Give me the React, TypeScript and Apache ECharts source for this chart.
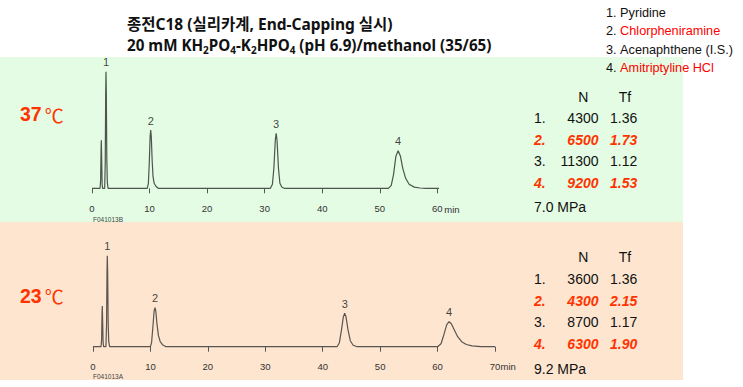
import React, { useEffect, useRef } from "react";
import * as echarts from "echarts";

// ---------- data ----------
const titleLine1 = "종전C18 (실리카계, End-Capping 실시)";
const compounds = ["Pyridine", "Chlorpheniramine", "Acenaphthene (I.S.)", "Amitriptyline HCl"];
const temps = ["37", "23"];
const fileIds = ["F041013B", "F041013A"];
const unit = "min";

const n37 = [4300, 6500, 11300, 9200];
const tf37 = ["1.36", "1.73", "1.12", "1.53"];
const pressure37 = "7.0 MPa";
const n23 = [3600, 4300, 8700, 6300];
const tf23 = ["1.36", "2.15", "1.17", "1.90"];
const pressure23 = "9.2 MPa";

const xMax37 = 60;
const xMax23 = 70;

// chromatogram traces: [time (min), signal]
const trace37 = [
  [0, 0], [1.4, 0], [1.5, 8], [1.58, 40], [1.62, 48], [1.68, 30], [1.76, 4], [1.85, 0],
  [2.2, 0], [2.3, 25], [2.38, 95], [2.43, 116.6], [2.49, 95], [2.57, 30], [2.66, 6], [2.8, 0],
  [9.6, 0], [9.8, 5], [9.95, 25], [10.1, 52], [10.2, 58.3], [10.3, 52], [10.45, 28], [10.6, 12], [10.8, 5], [11.1, 2], [11.5, 0],
  [31.0, 0], [31.35, 4], [31.6, 20], [31.85, 48], [32.0, 55], [32.15, 48], [32.4, 20], [32.65, 5], [33.0, 1], [33.4, 0],
  [51.5, 0], [52.0, 3], [52.4, 14], [52.8, 32], [53.2, 37.6], [53.6, 32], [54.0, 20], [54.5, 10], [55.1, 4], [56.0, 1.2], [57.0, 0.3], [58.0, 0],
  [60.8, 0],
];
const trace23 = [
  [0, 0], [1.4, 0], [1.5, 7], [1.58, 34], [1.62, 40.7], [1.68, 25], [1.76, 4], [1.85, 0],
  [2.25, 0], [2.36, 22], [2.44, 75], [2.49, 91], [2.55, 75], [2.64, 25], [2.74, 5], [2.9, 0],
  [10.0, 0], [10.2, 4], [10.4, 18], [10.65, 36], [10.8, 39], [10.95, 35], [11.15, 22], [11.4, 11], [11.7, 5], [12.1, 2], [12.7, 0],
  [42.5, 0], [42.9, 4], [43.25, 16], [43.6, 30], [43.83, 33.4], [44.05, 30], [44.4, 17], [44.8, 6], [45.3, 1.5], [46.0, 0],
  [60.0, 0], [60.6, 3], [61.1, 12], [61.6, 22], [62.0, 25], [62.4, 23], [62.9, 17], [63.5, 10], [64.2, 5], [65.0, 2.2], [66.0, 0.8], [67.5, 0],
  [70, 0],
];
const peakTimes37 = [2.43, 10.2, 32.0, 53.2];
const peakHeights37 = [116.6, 58.3, 55, 37.6];
const peakTimes23 = [2.49, 10.8, 43.83, 62.0];
const peakHeights23 = [91, 39, 33.4, 25];
const peakNames = ["1", "2", "3", "4"];

// ---------- styles ----------
const RED = "#ff3300";
const LEGEND_RED = "#ff0000";
const SANS = "Liberation Sans, Arial, sans-serif";
const KR = "Noto Sans, Noto Sans CJK KR, sans-serif";

function makeAxis(gridIndex: number, max: number) {
  return {
    type: "value",
    gridIndex,
    min: 0,
    max,
    interval: 10,
    offset: 5,
    axisLine: { show: false },
    axisTick: { show: true, length: 5, lineStyle: { color: "#555", width: 1 } },
    axisLabel: { margin: 10, fontSize: 9.5, color: "#333", fontFamily: SANS },
    splitLine: { show: false },
  };
}

function tableTexts(yHeader: number, step: number, nVals: number[], tfVals: string[], pressure: string) {
  const els: any[] = [];
  els.push({ type: "text", x: 583.3, y: yHeader, style: { text: "N", fill: "#111", font: `14px ${SANS}`, align: "center", verticalAlign: "middle" } });
  els.push({ type: "text", x: 625, y: yHeader, style: { text: "Tf", fill: "#111", font: `14px ${SANS}`, align: "center", verticalAlign: "middle" } });
  nVals.forEach((n, i) => {
    const hi = i % 2 === 1;
    const font = hi ? `italic bold 14px ${SANS}` : `14px ${SANS}`;
    const fill = hi ? RED : "#111";
    const y = yHeader + step * (i + 1);
    els.push({ type: "text", x: 534, y, style: { text: `${i + 1}.`, fill, font, align: "left", verticalAlign: "middle" } });
    els.push({ type: "text", x: 598.5, y, style: { text: String(n), fill, font, align: "right", verticalAlign: "middle" } });
    els.push({ type: "text", x: 610, y, style: { text: tfVals[i], fill, font, align: "left", verticalAlign: "middle" } });
  });
  els.push({ type: "text", x: 534, y: yHeader + step * 5 + 3, style: { text: pressure, fill: "#111", font: `14px ${SANS}`, align: "left", verticalAlign: "middle" } });
  return els;
}

function tempText(label: string, y: number) {
  return {
    type: "text",
    x: 20,
    y,
    style: {
      text: `{a|${label}}{b|℃}`,
      verticalAlign: "middle",
      align: "left",
      rich: {
        a: { fontSize: 19.5, fontWeight: "bold", fontFamily: SANS, fill: RED, padding: [0, 3, 0, 0] },
        b: { fontSize: 19, fontFamily: "Noto Sans CJK KR", fill: RED },
      },
    },
  };
}

export default function App() {
  const ref = useRef<HTMLDivElement>(null);
  useEffect(() => {
    if (!ref.current) return;
    const chart = echarts.init(ref.current, null, { renderer: "svg" });

    const legendEls = compounds.map((c, i) => ({
      type: "text",
      x: 606,
      y: 12.7 + i * 18.55,
      style: {
        text: `{n|${i + 1}. }{c${i % 2}|${c}}`,
        verticalAlign: "middle",
        rich: {
          n: { fontSize: 12.7, fontFamily: SANS, fill: "#111" },
          c0: { fontSize: 12.7, fontFamily: SANS, fill: "#111" },
          c1: { fontSize: 12.7, fontFamily: SANS, fill: LEGEND_RED },
        },
      },
    }));

    const sub = { fontSize: 10, fontWeight: "bold", fontFamily: KR, fill: "#111", verticalAlign: "bottom", lineHeight: 19 };
    const main = { fontSize: 15.2, fontWeight: "bold", fontFamily: KR, fill: "#111", lineHeight: 19 };
    const main1 = { ...main, fontSize: 15.5 };

    const option: any = {
      animation: false,
      graphic: [
        { type: "rect", shape: { x: 0, y: 57, width: 683, height: 165 }, style: { fill: "#e3fce3" }, z: -10 },
        { type: "rect", shape: { x: 0, y: 222, width: 683, height: 158 }, style: { fill: "#fde5cf" }, z: -10 },
        {
          type: "text", x: 127, y: 24,
          style: { text: `{m|${titleLine1}}`, verticalAlign: "middle", rich: { m: main1 } },
        },
        {
          type: "text", x: 127, y: 45,
          style: {
            text: "{m|20 mM KH}{s|2}{m|PO}{s|4}{m|-K}{s|2}{m|HPO}{s|4}{m| (pH 6.9)/methanol (35/65)}",
            verticalAlign: "middle",
            rich: { m: main, s: sub },
          },
        },
        ...legendEls,
        tempText(temps[0], 114.3),
        tempText(temps[1], 295.7),
        { type: "text", x: 93, y: 219, style: { text: fileIds[0], font: `6.5px ${SANS}`, fill: "#444", verticalAlign: "middle" } },
        { type: "text", x: 93, y: 376, style: { text: fileIds[1], font: `6.5px ${SANS}`, fill: "#444", verticalAlign: "middle" } },
        { type: "text", x: 444.3, y: 209, style: { text: unit, font: `9.5px ${SANS}`, fill: "#333", verticalAlign: "middle" } },
        { type: "text", x: 500.5, y: 366, style: { text: unit, font: `9.5px ${SANS}`, fill: "#333", verticalAlign: "middle" } },
        ...tableTexts(96.7, 21.5, n37, tf37, pressure37),
        ...tableTexts(257.3, 21.65, n23, tf23, pressure23),
      ],
      grid: [
        { left: 92, top: 68.3, width: 345.3, height: 120 },
        { left: 93, top: 226.7, width: 402, height: 120 },
      ],
      xAxis: [makeAxis(0, xMax37), makeAxis(1, xMax23)],
      yAxis: [
        { type: "value", gridIndex: 0, min: 0, max: 120, show: false },
        { type: "value", gridIndex: 1, min: 0, max: 120, show: false },
      ],
      series: [
        {
          type: "line", xAxisIndex: 0, yAxisIndex: 0, data: trace37, showSymbol: false, clip: false,
          lineStyle: { color: "#4d554d", width: 1.2 }, silent: true,
        },
        {
          type: "line", xAxisIndex: 1, yAxisIndex: 1, data: trace23, showSymbol: false, clip: false,
          lineStyle: { color: "#5a5550", width: 1.2 }, silent: true,
        },
        {
          type: "scatter", xAxisIndex: 0, yAxisIndex: 0, symbolSize: 0, silent: true,
          data: peakTimes37.map((t, i) => ({ value: [t, peakHeights37[i]], name: peakNames[i] })),
          label: { show: true, position: "top", distance: 4, formatter: "{b}", fontSize: 11, color: "#111", fontFamily: SANS },
        },
        {
          type: "scatter", xAxisIndex: 1, yAxisIndex: 1, symbolSize: 0, silent: true,
          data: peakTimes23.map((t, i) => ({ value: [t, peakHeights23[i]], name: peakNames[i] })),
          label: { show: true, position: "top", distance: 4, formatter: "{b}", fontSize: 11, color: "#111", fontFamily: SANS },
        },
      ],
    };
    chart.setOption(option);
    return () => chart.dispose();
  }, []);
  return (
    <div
      ref={ref}
      style={{ position: "fixed", left: 0, top: 0, width: 743, height: 387, background: "#fff" }}
    />
  );
}
